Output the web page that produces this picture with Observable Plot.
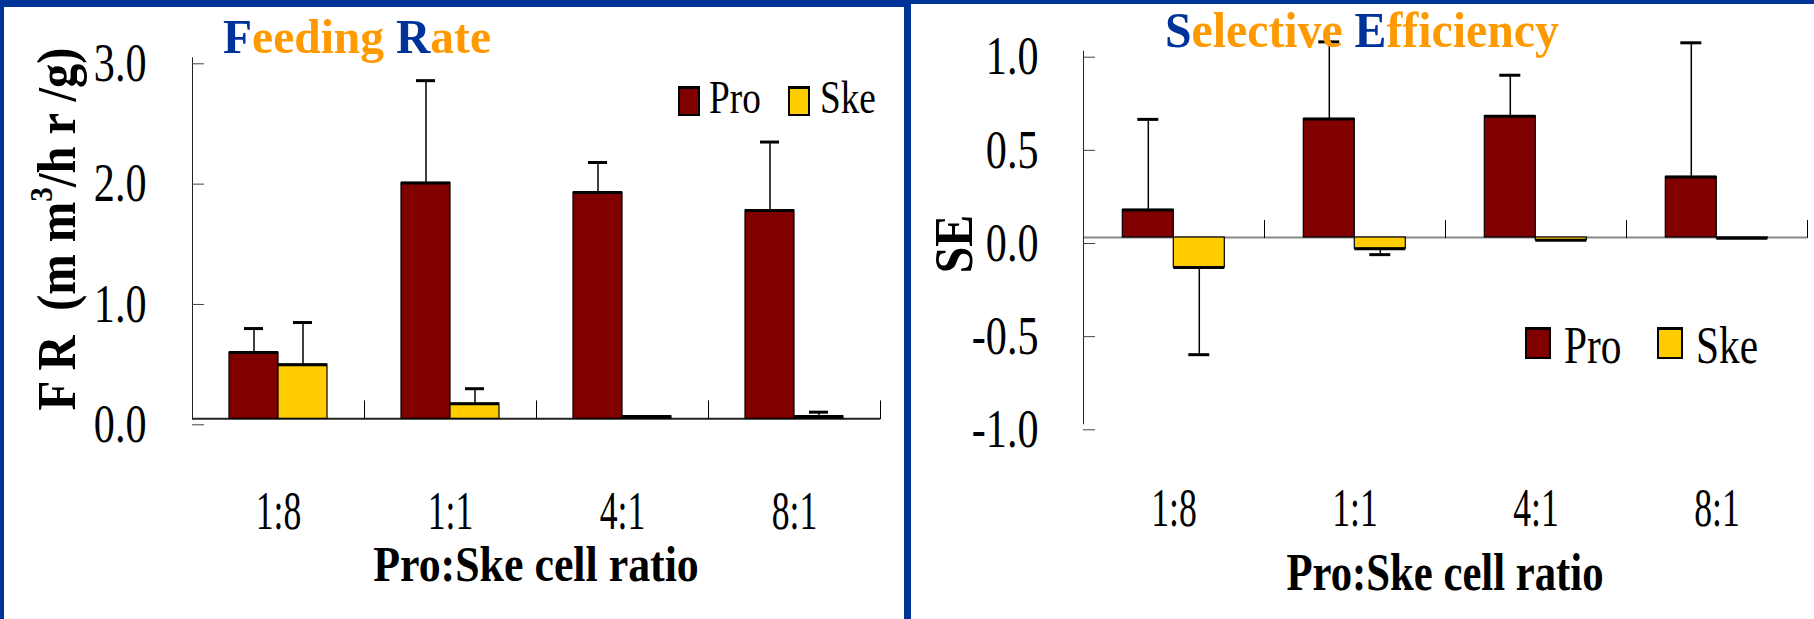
<!DOCTYPE html>
<html><head><meta charset="utf-8">
<script src="https://cdn.jsdelivr.net/npm/d3@7"></script>
<script src="https://cdn.jsdelivr.net/npm/@observablehq/plot@0.6"></script>
<style>
html,body{margin:0;padding:0;background:#fff;}
#root{position:relative;width:1814px;height:619px;overflow:hidden;background:#fff;font-family:"Liberation Serif","Times New Roman",serif;}
.abs{position:absolute;white-space:nowrap;line-height:1;}
.blue{background:#003399;position:absolute;}
#root svg{position:absolute;top:0;}
.sw{position:absolute;box-sizing:border-box;border:2px solid #000;border-top-width:3px;}
</style></head><body><div id="root"></div><script>
// ---- data ----
const ratios = ["1:8", "1:1", "4:1", "8:1"];
const seriesNames = ["Pro", "Ske"];
const seriesColors = ["#800000", "#FFCC00"];
const frPro = [0.55, 1.96, 1.88, 1.73];
const frProErr = [0.75, 2.81, 2.13, 2.30];
const frSke = [0.45, 0.125, 0.02, 0.02];
const frSkeErr = [0.80, 0.25, null, 0.055];
const sePro = [0.148, 0.636, 0.651, 0.325];
const seProErr = [0.634, 1.05, 0.871, 1.045];
const seSke = [-0.161, -0.06, -0.015, -0.004];
const seSkeErr = [-0.629, -0.092, null, null];
const frTicks = [0, 1, 2, 3];
const seTicks = [-1, -0.5, 0, 0.5, 1];

function table(pro, proErr, ske, skeErr) {
  const rows = [];
  ratios.forEach((r, i) => {
    rows.push({ratio: r, series: "Pro", value: pro[i], err: proErr[i]});
    rows.push({ratio: r, series: "Ske", value: ske[i], err: skeErr[i]});
  });
  return rows;
}

const root = document.getElementById("root");
const spike = {draw(ctx, l) { ctx.moveTo(0, 0); ctx.lineTo(0, -l); }};

function squeeze(svg, map) {
  svg.querySelectorAll("text").forEach(t => {
    let g = t.parentNode, label = null;
    while (g && g !== svg) { if (g.getAttribute && g.getAttribute("aria-label")) { label = g.getAttribute("aria-label"); break; } g = g.parentNode; }
    const sx = map[label];
    if (sx == null) return;
    let tr = t.getAttribute("transform") || "";
    const x = t.getAttribute("x");
    if (x != null) { tr += ` translate(${x},0)`; t.removeAttribute("x"); }
    t.setAttribute("transform", tr + ` scale(${sx},1)`);
  });
}

function panel({rows, domain, ticks, left, width, margins, baseStroke, tickPadding, fxPadding, spikeLen}) {
  const withErr = rows.filter(d => d.err != null);
  const svg = Plot.plot({
    width, height: 619, ...margins,
    style: {fontFamily: "Liberation Serif, Times New Roman, serif", fontSize: "54px", background: "transparent", overflow: "visible", color: "black"},
    fx: {domain: ratios, padding: 0, label: null},
    x: {domain: seriesNames, paddingInner: 0, paddingOuter: 0.75, axis: null},
    y: {domain, label: null},
    color: {domain: seriesNames, range: seriesColors},
    marks: [
      Plot.ruleY([0], {stroke: baseStroke, strokeWidth: 2}),
      Plot.barY(rows, {fx: "ratio", x: "series", y: "value", fill: "series", stroke: "black", strokeWidth: 1.2}),
      Plot.tickY(rows, {fx: "ratio", x: "series", y: "value", stroke: "black", strokeWidth: 3}),
      Plot.ruleX(withErr, {fx: "ratio", x: "series", y1: "value", y2: "err", stroke: "black", strokeWidth: 1.5}),
      Plot.tickY(withErr, {fx: "ratio", x: "series", y: "err", stroke: "black", strokeWidth: 3, inset: 15}),
      Plot.vector([0], {y: d => d, frameAnchor: "right", length: spikeLen, anchor: "start", shape: spike, stroke: "black", strokeWidth: 1}),
      Plot.frame({anchor: "left", facetAnchor: "left", stroke: "#222", strokeWidth: 1}),
      Plot.axisY({ticks, tickSize: -12, tickPadding, tickFormat: d => d.toFixed(1), dy: 6, stroke: "#444"}),
      Plot.axisFx({anchor: "bottom", tickSize: 0, tickPadding: fxPadding, label: null})
    ]
  });
  svg.style.left = left + "px";
  squeeze(svg, {"y-axis tick label": 0.78, "fx-axis tick label": 0.66});
  root.appendChild(svg);
}

panel({rows: table(frPro, frProErr, frSke, frSkeErr), domain: [0, 3], ticks: frTicks,
  left: 0, width: 904, margins: {marginLeft: 191, marginRight: 23, marginTop: 57.3, marginBottom: 200.7},
  baseStroke: "#222", tickPadding: 58, fxPadding: 72, spikeLen: 18});
panel({rows: table(sePro, seProErr, seSke, seSkeErr), domain: [-1, 1], ticks: seTicks,
  left: 911, width: 903, margins: {marginLeft: 170.7, marginRight: 5, marginTop: 50.7, marginBottom: 195.7},
  baseStroke: "#888", tickPadding: 57, fxPadding: 64, spikeLen: 17});

// ---- frame ----
function box(l, t, w, h) { const d = document.createElement("div"); d.className = "blue"; Object.assign(d.style, {left: l + "px", top: t + "px", width: w + "px", height: h + "px"}); root.appendChild(d); }
box(0, 0, 4, 619); box(0, 0, 911, 7); box(904, 0, 7, 619); box(911, 0, 903, 4);

// ---- text helpers ----
function text(html, {x, baseline, size, bold = true, sx = 1, anchor = "start", color = "#000"}) {
  const d = document.createElement("div");
  d.className = "abs";
  d.innerHTML = html;
  Object.assign(d.style, {left: x + "px", top: (baseline - 0.8375 * size) + "px", fontSize: size + "px", fontWeight: bold ? "bold" : "normal", color,
    transformOrigin: anchor === "middle" ? "center" : "left",
    transform: (anchor === "middle" ? "translateX(-50%) " : "") + `scaleX(${sx})`});
  root.appendChild(d);
}
function vtext(html, {cx, cy, size, sx = 1}) {
  const d = document.createElement("div");
  d.className = "abs";
  d.innerHTML = html;
  Object.assign(d.style, {left: cx + "px", top: cy + "px", fontSize: size + "px", fontWeight: "bold", transform: `translate(-50%,-50%) rotate(-90deg) scaleX(${sx})`});
  root.appendChild(d);
}
const B = "#003399", O = "#FF9900";
const two = (a, b, c, d) => `<span style="color:${B}">${a}</span><span style="color:${O}">${b}</span> <span style="color:${B}">${c}</span><span style="color:${O}">${d}</span>`;
text(two("F", "eeding", "R", "ate"), {x: 223, baseline: 53.3, size: 49, sx: 0.97});
text(two("S", "elective", "E", "fficiency"), {x: 1165, baseline: 46.7, size: 50, sx: 0.955});
text("Pro:Ske cell ratio", {x: 536, baseline: 581.7, size: 51, sx: 0.86, anchor: "middle"});
text("Pro:Ske cell ratio", {x: 1445, baseline: 590, size: 53, sx: 0.806, anchor: "middle"});
vtext("F R &nbsp;(m m<sup style='font-size:0.6em;vertical-align:0.7em;line-height:0'>3</sup>/h r /g)", {cx: 57, cy: 229, size: 54, sx: 0.9});
vtext("SE", {cx: 953, cy: 244, size: 55, sx: 0.87});

// ---- legends ----
function legend({swLeft, swTop, swW, swH, txLeft, baseline, size, sx}) {
  seriesNames.forEach((name, i) => {
    const s = document.createElement("div");
    s.className = "sw";
    Object.assign(s.style, {left: swLeft[i] + "px", top: swTop + "px", width: swW + "px", height: swH + "px", background: seriesColors[i]});
    root.appendChild(s);
    text(name, {x: txLeft[i], baseline, size, bold: false, sx});
  });
}
legend({swLeft: [678, 788], swTop: 86, swW: 22, swH: 30, txLeft: [709, 820], baseline: 114, size: 46, sx: 0.81});
legend({swLeft: [1525, 1657], swTop: 327, swW: 26, swH: 31.5, txLeft: [1564, 1696], baseline: 363.3, size: 53, sx: 0.78});
</script></body></html>
